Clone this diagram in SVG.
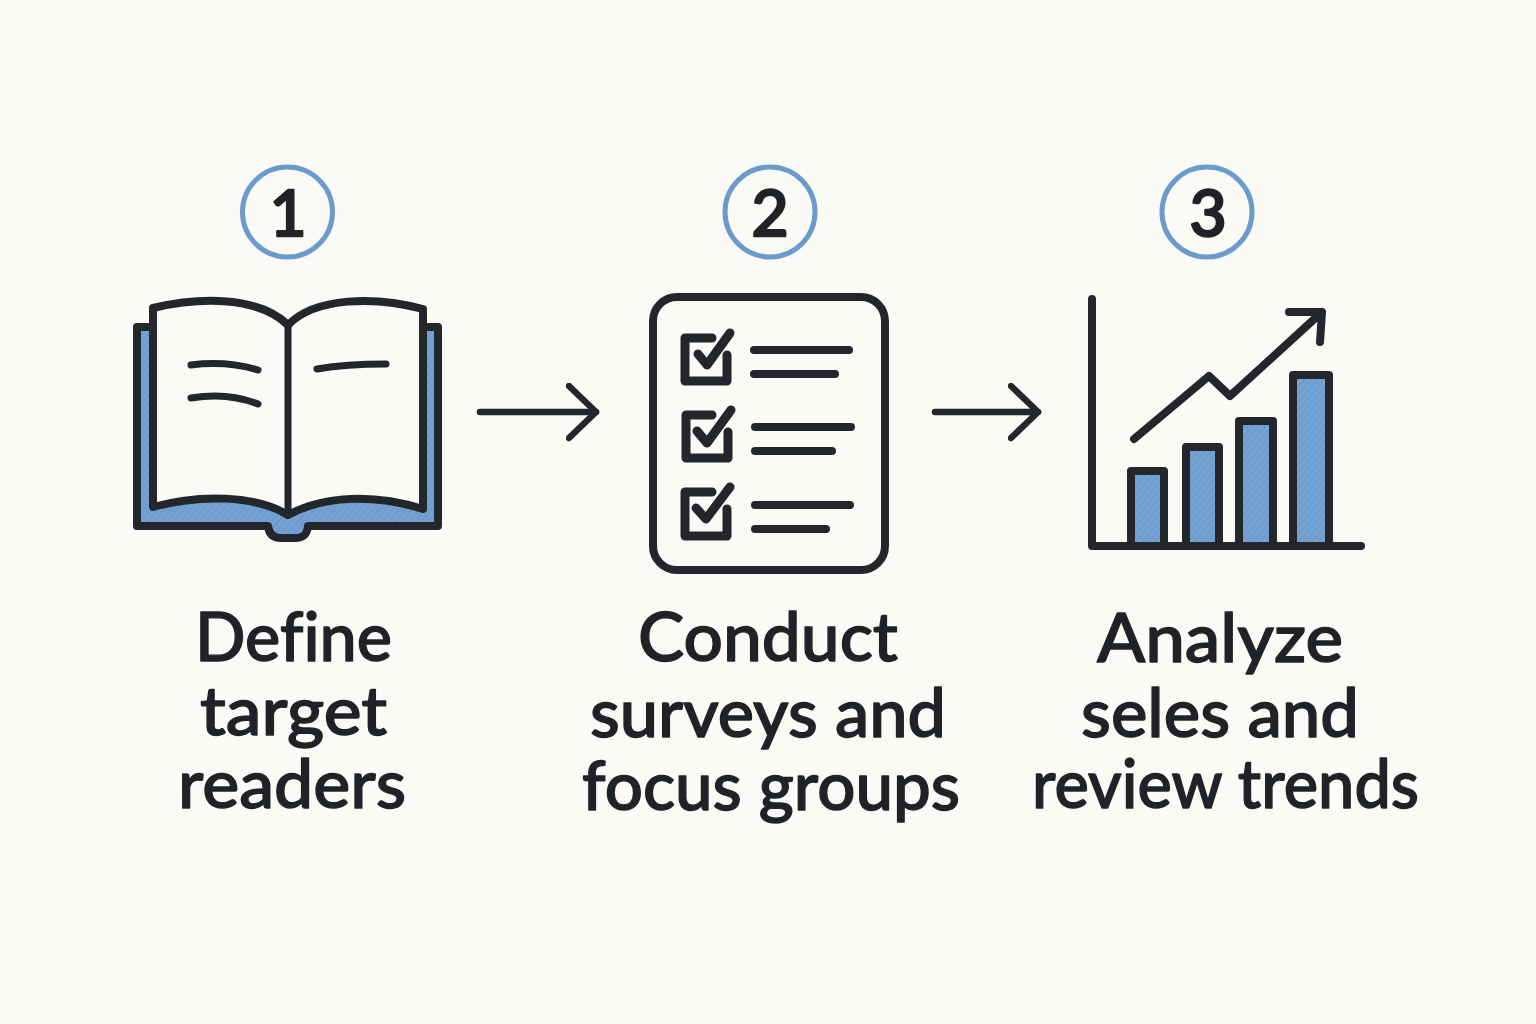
<svg xmlns="http://www.w3.org/2000/svg" width="1536" height="1024" viewBox="0 0 1536 1024">
<style>
.ink{fill:none;stroke:#23272b;stroke-width:8;stroke-linecap:round;stroke-linejoin:round}
.thin{stroke-width:7}
.chk{stroke-width:9}
.page{fill:#fbfaf6;stroke:#23272b;stroke-width:8;stroke-linecap:round;stroke-linejoin:round}
.blue{fill:url(#hatch);stroke:#23272b;stroke-width:8;stroke-linejoin:round}
.ring{fill:none;stroke:#6b9bcb;stroke-width:5}
.num,.lab{font-family:"Lato","Noto Sans",sans-serif;fill:#1f2327;stroke:#1f2327;stroke-linejoin:round;text-anchor:middle;font-variant-ligatures:none}
.num{font-size:64px;font-weight:500;stroke-width:2.400}
.lab{font-size:68px;font-weight:500;stroke-width:1.400}
</style>
<defs>
<pattern id="hatch" width="5" height="5" patternUnits="userSpaceOnUse" patternTransform="rotate(-50)"><rect width="5" height="5" fill="#6d9ccf"/><rect width="5" height="1.500" fill="#7aa5d4"/></pattern>
<marker id="ah" viewBox="0 0 34 60" refX="30" refY="29" markerWidth="34" markerHeight="60" markerUnits="userSpaceOnUse" orient="auto"><path d="M3 3L30 29L3 55" fill="none" stroke="#23272b" stroke-width="6.500" stroke-linecap="round" stroke-linejoin="round"/></marker>
</defs>
<rect width="1536" height="1024" fill="#fbfaf6"/>
<g id="connectors">
<path d="M480 412H596" fill="none" stroke="#23272b" stroke-width="6.500" stroke-linecap="round" marker-end="url(#ah)"/>
<path d="M935 412H1038" fill="none" stroke="#23272b" stroke-width="6.500" stroke-linecap="round" marker-end="url(#ah)"/>
</g>
<g id="node1">
<circle class="ring" cx="287.500" cy="212" r="45"/>
<text class="num" x="288" y="236">1</text>
<path class="blue" d="M137 327H438V526H308C307 535 303 538 295 538H281C274 538 269 535 268 526H137Z"/>
<path class="page" d="M153 308C200 297 258 296 288 325C315 297 375 296 423 309V509C375 494 325 495 288 515C255 495 200 494 153 507Z"/>
<path class="ink thin" d="M288 325V515M191 365C215 362 238 364 258 370M191 398C215 394 238 396 258 404M317 369C340 365 362 364 386 364"/>
<text class="lab"><tspan x="293.500" y="661" textLength="197" lengthAdjust="spacingAndGlyphs">Define</tspan><tspan x="293.500" y="735" textLength="187" lengthAdjust="spacingAndGlyphs">target</tspan><tspan x="292" y="808" textLength="228" lengthAdjust="spacingAndGlyphs">readers</tspan></text>
</g>
<g id="node2">
<circle class="ring" cx="770" cy="212" r="45"/>
<text class="num" x="770" y="236">2</text>
<rect class="ink" x="653" y="297" width="232" height="273" rx="24"/>
<path class="ink chk" d="M712 338H685V381H727V355M698 354L707 365L730 333M712 415H686V458H728V432M697 431L707 443L731 410M712 492H685V536H727V509M696 508L706 519L730 487"/>
<path class="ink" d="M754 350H849M754 374H835M755 427H851M755 451H832M755 505H850M755 529H826"/>
<text class="lab"><tspan x="768" y="661" textLength="260" lengthAdjust="spacingAndGlyphs">Conduct</tspan><tspan x="768" y="737" textLength="356" lengthAdjust="spacingAndGlyphs">surveys and</tspan><tspan x="771" y="810" textLength="378" lengthAdjust="spacingAndGlyphs">focus groups</tspan></text>
</g>
<g id="node3">
<circle class="ring" cx="1207" cy="212" r="45"/>
<text class="num" x="1208" y="236">3</text>
<path class="blue" d="M1131 546V471H1164V546ZM1186 546V447H1219V546ZM1239 546V421H1273V546ZM1293 546V375H1329V546Z"/>
<path class="ink" d="M1092 299V546H1361M1134 439L1209 376L1230 396L1322 312M1289 312H1322L1320 342"/>
<text class="lab"><tspan x="1220" y="662" textLength="246" lengthAdjust="spacingAndGlyphs">Analyze</tspan><tspan x="1220" y="737" textLength="278" lengthAdjust="spacingAndGlyphs">seles and</tspan><tspan x="1225.500" y="808" textLength="387" lengthAdjust="spacingAndGlyphs">review trends</tspan></text>
</g>
</svg>
